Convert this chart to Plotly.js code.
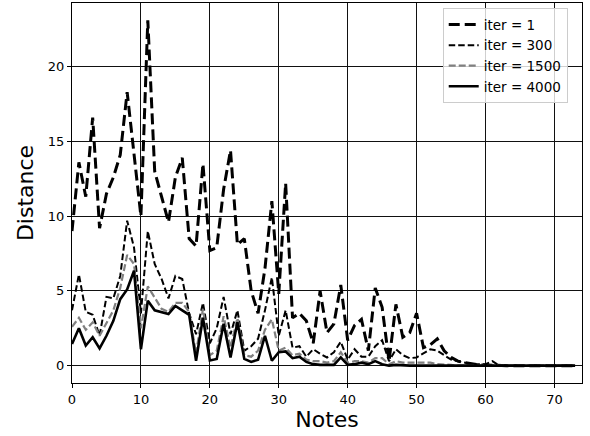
<!DOCTYPE html>
<html>
<head>
<meta charset="utf-8">
<script src="https://cdn.plot.ly/plotly-3.0.1.min.js"></script>
<style>html,body{margin:0;padding:0;background:#fff;}#chart{width:590px;height:436px;}</style>
</head>
<body>
<div id="chart"></div>
<script>
// Data
const seriesNames = ["iter = 1", "iter = 300", "iter = 1500", "iter = 4000"];
const xTicks = [0, 10, 20, 30, 40, 50, 60, 70];
const yTicks = [0, 5, 10, 15, 20];

const iter1 = [9.0,13.6,11.3,16.6,9.2,11.5,12.6,14.1,18.3,14.0,
  10.0,23.1,13.0,11.3,9.6,12.6,13.9,8.5,8.0,13.5,
  7.7,7.9,11.8,14.4,8.1,8.5,5.0,3.5,6.5,11.0,
  4.8,12.2,3.2,3.5,3.0,1.5,5.0,2.2,2.8,5.4,
  1.7,2.7,3.1,1.0,5.2,3.9,0.3,4.1,1.9,2.2,
  3.5,1.2,1.4,1.8,1.0,0.55,0.3,0.2,0.1,0.05,
  0.05,0.02,0,0,0,0,0,0,0,0,
  0,0,0,0];

const iter300 = [3.7,6.1,3.6,3.4,2.0,4.6,4.5,6.0,9.7,7.9,
  3.5,9.0,6.8,5.8,4.5,6.0,5.8,3.5,2.1,4.2,
  1.5,2.5,4.6,2.1,3.7,1.0,1.3,1.8,3.7,5.9,
  2.0,3.7,1.2,1.3,0.6,1.1,0.8,0.55,0.9,1.6,
  0.4,1.1,0.6,0.6,1.3,1.7,0.3,1.1,0.7,0.5,
  0.55,0.8,1.1,1.0,0.7,0.4,0.3,0.2,0.1,0.1,
  0.1,0.3,0,0,0,0,0,0,0,0,
  0,0,0,0];

const iter1500 = [2.6,3.2,2.4,2.9,2.0,2.8,3.7,5.2,7.4,6.8,
  2.5,5.3,4.5,3.8,3.6,4.2,4.2,3.6,0.8,3.8,
  0.7,1.0,3.3,1.2,3.2,0.7,0.6,1.0,2.4,3.1,
  1.0,1.2,0.7,0.8,0.4,0.3,0.3,0.2,0.3,0.9,
  0.2,0.3,0.3,0.2,0.5,0.5,0.1,0.3,0.2,0.2,
  0.2,0.2,0.2,0.1,0.1,0.05,0,0,0,0,
  0,0,0,0,0,0,0,0,0,0,
  0,0,0,0];

const iter4000 = [1.45,2.5,1.35,1.9,1.15,2.0,3.0,4.45,5.1,6.35,
  1.1,4.35,3.7,3.55,3.45,4.0,3.7,3.4,0.33,3.2,
  0.35,0.45,2.8,0.55,2.9,0.45,0.25,0.4,2.0,0.33,
  0.9,0.95,0.5,0.6,0.25,0.1,0.05,0.05,0.05,0.55,
  0.05,0.1,0.2,0.1,0.3,0.1,0,0.05,0,0,
  0,0,0,0,0,0,0,0,0,0,
  0,0,0,0,0,0,0,0,0,0,
  0,0,0,0];

const notes = iter1.map((_, i) => i);

const FONT = "DejaVu Sans, sans-serif";
const styles = [
  {color: "#000000", width: 3, dash: "11px,5px"},
  {color: "#000000", width: 2, dash: "6.5px,3px"},
  {color: "#808080", width: 2.2, dash: "7px,3px"},
  {color: "#000000", width: 2.6, dash: "solid"}
];
const allSeries = [iter1, iter300, iter1500, iter4000];

const traces = allSeries.map((ys, k) => ({
  x: notes, y: ys, type: "scatter", mode: "lines",
  name: seriesNames[k], line: styles[k]
}));

const layout = {
  width: 590, height: 436,
  margin: {l: 72, r: 8, t: 3, b: 53},
  paper_bgcolor: "#fff", plot_bgcolor: "#fff",
  font: {family: FONT, color: "#000", size: 13},
  showlegend: true,
  legend: {
    x: 0.972, xanchor: "right", y: 0.986, yanchor: "top",
    bgcolor: "rgba(255,255,255,0.8)", bordercolor: "#cccccc", borderwidth: 1,
    font: {family: FONT, size: 13.5, color: "#000"}
  },
  xaxis: {
    range: [0, 74], tickvals: xTicks, ticktext: xTicks.map(String),
    ticks: "outside", ticklen: 4, tickcolor: "#000", tickwidth: 1,
    showline: true, mirror: true, linecolor: "#000", linewidth: 1,
    showgrid: true, gridcolor: "#111", gridwidth: 1, zeroline: false,
    tickfont: {family: FONT, size: 13, color: "#000"},
    title: {text: "Notes", font: {family: FONT, size: 22, color: "#000"}, standoff: 6},
    automargin: false
  },
  yaxis: {
    range: [-1.16, 24.26], tickvals: yTicks, ticktext: yTicks.map(String),
    ticks: "outside", ticklen: 4, tickcolor: "#000", tickwidth: 1,
    showline: true, mirror: true, linecolor: "#000", linewidth: 1,
    showgrid: true, gridcolor: "#111", gridwidth: 1, zeroline: false,
    tickfont: {family: FONT, size: 13, color: "#000"},
    title: {text: "Distance", font: {family: FONT, size: 22, color: "#000"}, standoff: 8},
    automargin: false
  }
};

Plotly.newPlot("chart", traces, layout, {staticPlot: true, displayModeBar: false});
</script>
</body>
</html>
